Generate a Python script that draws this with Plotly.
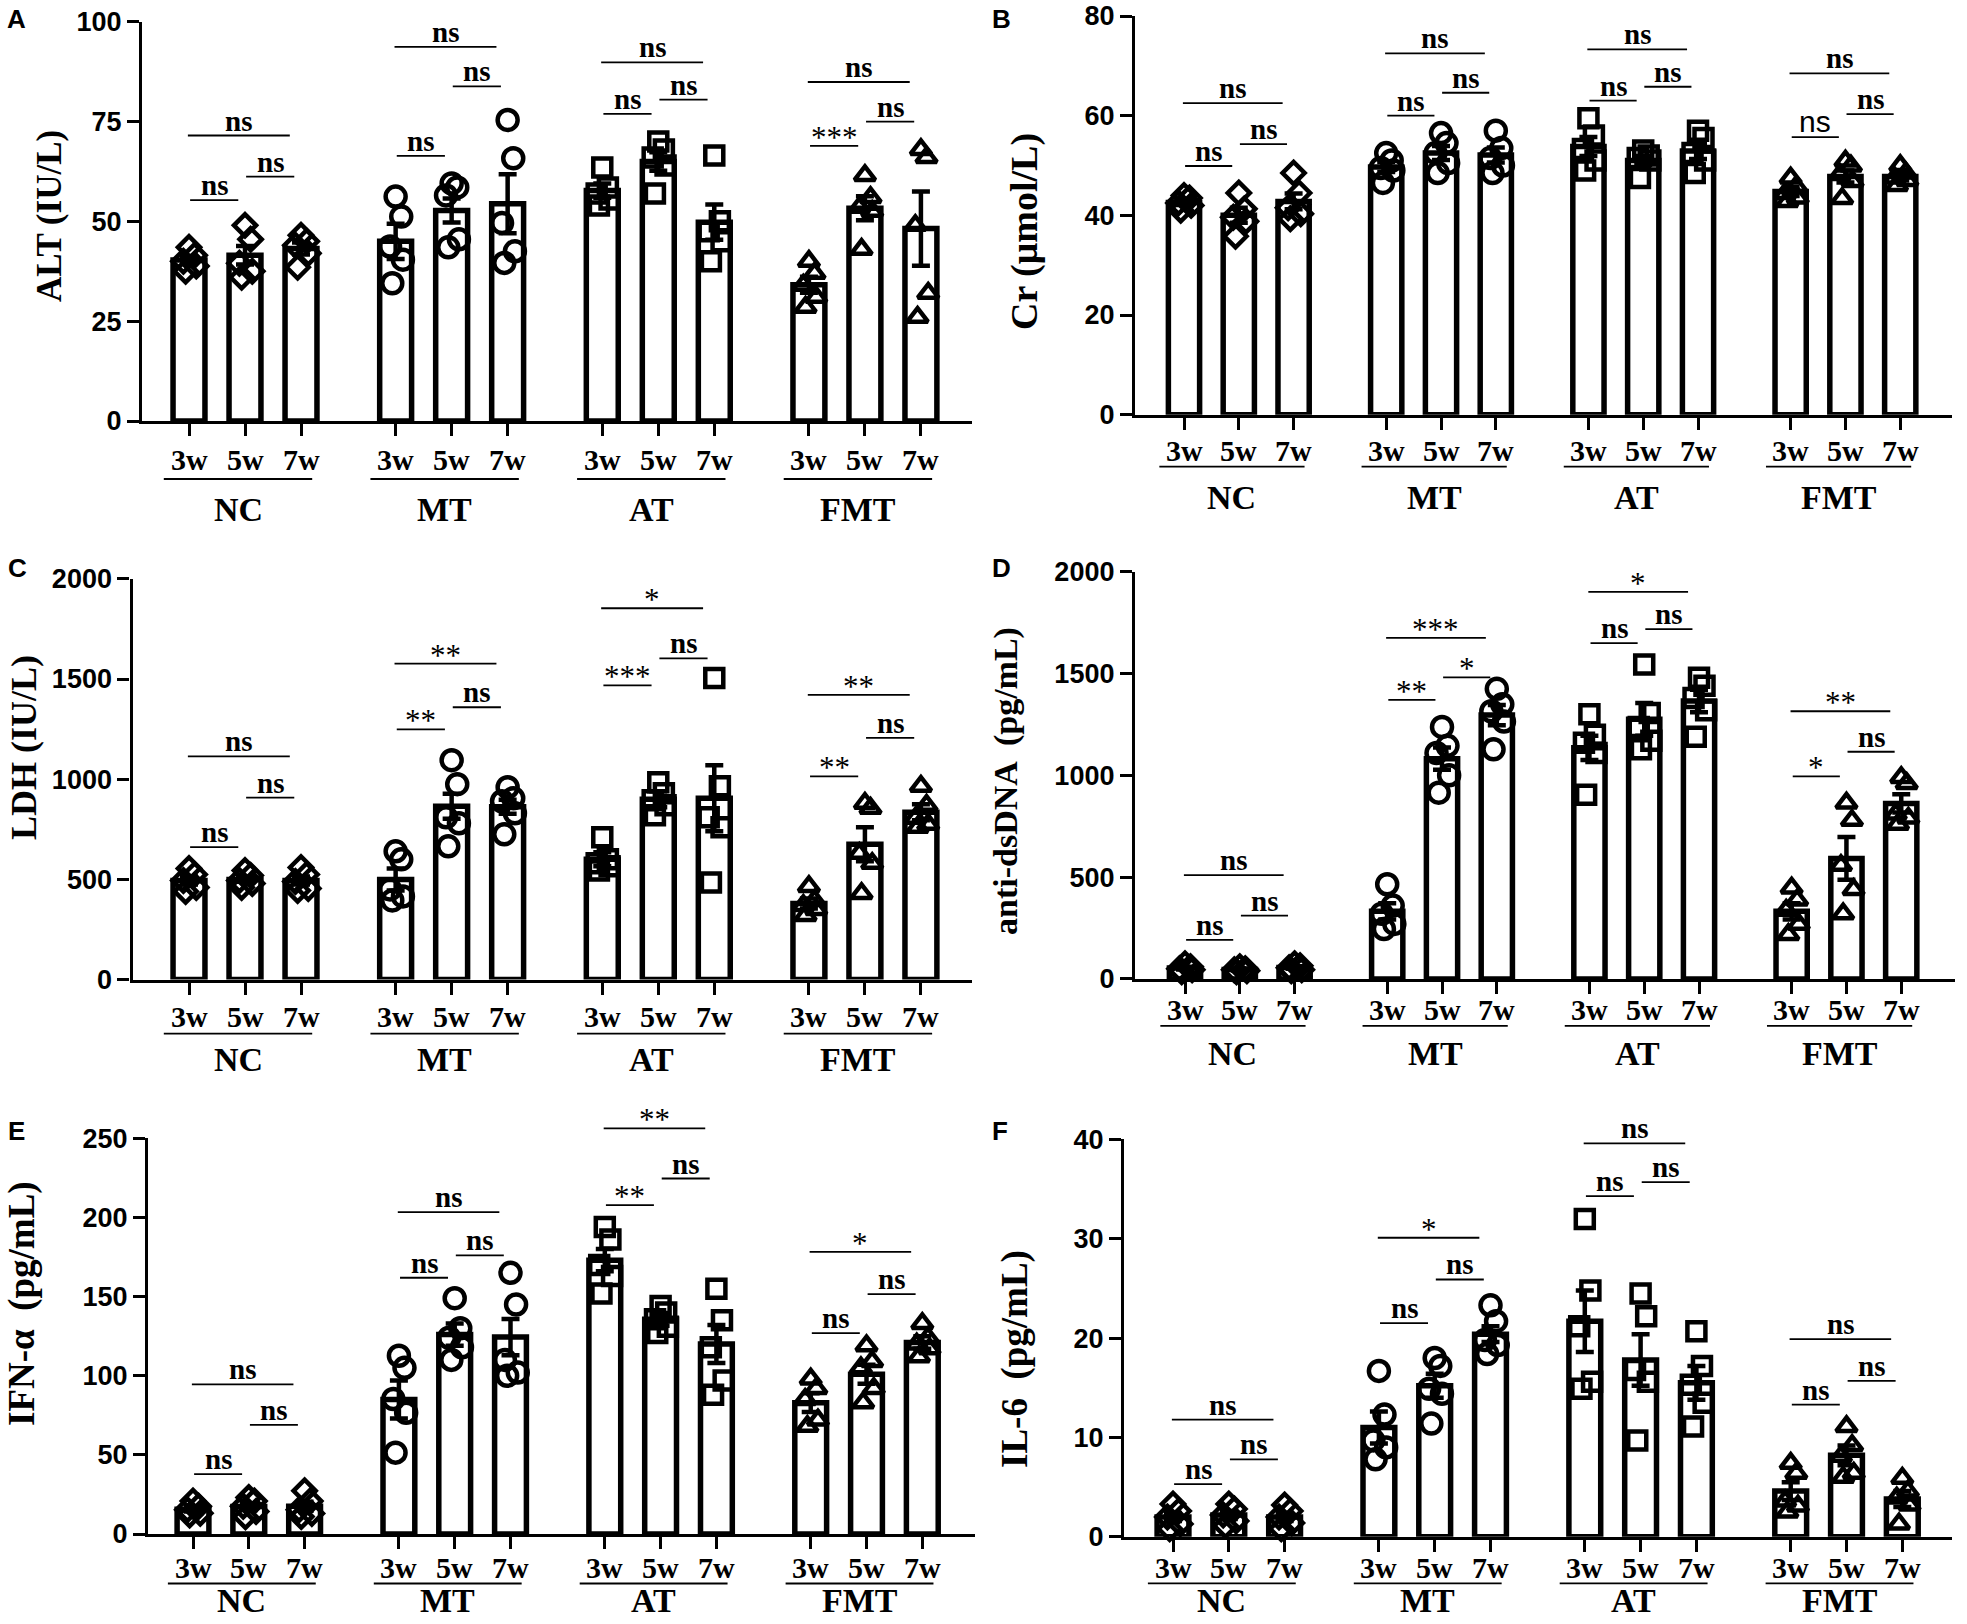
import plotly.graph_objects as go

W, H = 1967, 1624
GROUPS = ["NC", "MT", "AT", "FMT"]
WEEKS = ["3w", "5w", "7w"]
GROUP_STEP = 3.69
POS = [g * GROUP_STEP + i for g in range(4) for i in range(3)]
SYMBOLS = ["diamond", "circle", "square", "triangle-up"]
SYM_SIZE = {"diamond": 17, "circle": 20, "square": 18, "triangle-up": 18}
OFFSETS = [0.0, 0.1, -0.1, 0.13, -0.06]

# ---------------- A: ALT ----------------
alt_mean = [40.3, 41.5, 43.2, 45.0, 52.7, 54.4, 57.7, 65.0, 49.8, 34.1, 53.3, 48.2]
alt_sem = [1.0, 2.3, 1.5, 4.4, 3.0, 7.4, 1.8, 2.3, 4.4, 2.0, 3.0, 9.3]
alt_pts = [[43.5, 41.5, 40.0, 38.8, 37.5], [49.0, 45.5, 39.5, 37.5, 36.0], [46.5, 45.0, 44.0, 42.0, 38.5],
           [56.2, 51.2, 43.7, 40.4, 34.5], [59.5, 58.5, 56.5, 45.5, 43.5], [75.4, 65.8, 49.6, 42.5, 39.6],
           [63.5, 58.5, 57.0, 55.5, 54.0], [70.0, 68.0, 66.0, 64.0, 57.0], [66.5, 50.0, 47.5, 45.0, 40.0],
           [40.0, 37.0, 34.0, 31.0, 28.5], [61.5, 56.0, 53.5, 52.5, 43.0], [68.0, 66.0, 49.0, 32.0, 26.0]]
alt_sig = [(0, 0, 1, 55.3, "ns"), (0, 1, 2, 61.2, "ns"), (0, 0, 2, 71.5, "ns"),
           (1, 0, 1, 66.4, "ns"), (1, 1, 2, 83.8, "ns"), (1, 0, 2, 93.7, "ns"),
           (2, 0, 1, 76.9, "ns"), (2, 1, 2, 80.5, "ns"), (2, 0, 2, 89.8, "ns"),
           (3, 0, 1, 68.9, "***"), (3, 1, 2, 75.0, "ns"), (3, 0, 2, 84.9, "ns")]

# ---------------- B: Cr ----------------
cr_mean = [42.6, 40.0, 42.8, 49.7, 52.5, 52.1, 53.8, 51.0, 52.9, 44.8, 47.8, 47.8]
cr_sem = [0.5, 1.5, 1.6, 1.0, 1.4, 1.5, 1.9, 0.9, 1.6, 0.9, 1.2, 0.8]
cr_pts = [[44.0, 43.5, 42.5, 42.0, 41.0], [44.5, 41.3, 39.6, 38.8, 35.8], [48.5, 44.5, 41.5, 40.3, 39.3],
          [52.5, 51.0, 49.5, 49.0, 46.5], [56.5, 54.5, 52.5, 50.5, 48.5], [57.0, 53.5, 51.5, 50.0, 48.5],
          [59.5, 56.0, 53.3, 51.0, 49.0], [53.0, 52.0, 51.5, 51.0, 47.5], [57.0, 55.5, 52.5, 51.0, 48.5],
          [47.5, 45.8, 44.4, 43.5, 42.8], [50.9, 49.9, 48.2, 46.8, 43.4], [50.0, 48.5, 47.5, 47.0, 46.0]]
cr_sig = [(0, 0, 1, 49.9, "ns"), (0, 1, 2, 54.3, "ns"), (0, 0, 2, 62.5, "ns"),
          (1, 0, 1, 60.0, "ns"), (1, 1, 2, 64.6, "ns"), (1, 0, 2, 72.5, "ns"),
          (2, 0, 1, 63.0, "ns"), (2, 1, 2, 65.8, "ns"), (2, 0, 2, 73.3, "ns"),
          (3, 0, 1, 55.7, "ns*"), (3, 1, 2, 60.3, "ns"), (3, 0, 2, 68.5, "ns")]

# ---------------- C: LDH ----------------
ldh_mean = [495, 500, 495, 500, 865, 862, 600, 900, 905, 380, 675, 835]
ldh_sem = [20, 12, 20, 55, 62, 35, 35, 40, 165, 25, 85, 40]
ldh_pts = [[555, 525, 495, 460, 440], [545, 520, 495, 480, 460], [560, 525, 490, 455, 445],
           [640, 600, 450, 415, 395], [1095, 975, 810, 780, 665], [960, 905, 890, 830, 725],
           [710, 600, 580, 565, 545], [985, 930, 895, 870, 820], [1505, 965, 810, 760, 485],
           [465, 395, 370, 350, 320], [880, 855, 630, 580, 430], [965, 870, 805, 775, 760]]
ldh_sig = [(0, 0, 1, 661, "ns"), (0, 1, 2, 908, "ns"), (0, 0, 2, 1114, "ns"),
           (1, 0, 1, 1249, "**"), (1, 1, 2, 1359, "ns"), (1, 0, 2, 1577, "**"),
           (2, 0, 1, 1468, "***"), (2, 1, 2, 1603, "ns"), (2, 0, 2, 1853, "*"),
           (3, 0, 1, 1014, "**"), (3, 1, 2, 1206, "ns"), (3, 0, 2, 1421, "**")]

# ---------------- D: anti-dsDNA ----------------
dna_mean = [53, 46, 56, 332, 1082, 1296, 1135, 1275, 1365, 332, 592, 862]
dna_sem = [7, 5, 6, 40, 55, 50, 60, 80, 55, 40, 105, 45]
dna_pts = [[75, 60, 50, 45, 35], [60, 50, 45, 40, 35], [75, 65, 55, 45, 40],
           [465, 360, 320, 270, 245], [1238, 1145, 1110, 1000, 915], [1425, 1349, 1315, 1264, 1128],
           [1300, 1200, 1160, 1110, 905], [1544, 1306, 1238, 1170, 1128], [1480, 1440, 1380, 1320, 1190],
           [447, 388, 337, 269, 218], [864, 779, 558, 439, 320], [990, 960, 810, 790, 760]]
dna_sig = [(0, 0, 1, 192, "ns"), (0, 1, 2, 311, "ns"), (0, 0, 2, 510, "ns"),
           (1, 0, 1, 1371, "**"), (1, 1, 2, 1481, "*"), (1, 0, 2, 1675, "***"),
           (2, 0, 1, 1650, "ns"), (2, 1, 2, 1718, "ns"), (2, 0, 2, 1901, "*"),
           (3, 0, 1, 995, "*"), (3, 1, 2, 1116, "ns"), (3, 0, 2, 1315, "**")]

# ---------------- E: IFN-alpha ----------------
ifn_mean = [15.7, 17.3, 17.5, 85.0, 126.0, 124.4, 173.0, 135.6, 120.0, 83.0, 101.0, 121.0]
ifn_sem = [1.5, 2.2, 2.8, 12.0, 7.0, 11.5, 7.0, 4.0, 12.0, 6.0, 6.0, 4.0]
ifn_pts = [[20.8, 17.5, 15.3, 13.1, 12.0], [23.0, 20.8, 17.5, 14.2, 10.9], [27.3, 20.8, 15.3, 13.0, 11.0],
           [112.6, 105.0, 85.3, 76.6, 51.4], [149, 130, 124, 118, 110], [165, 145, 110, 102, 100],
           [194, 186, 170, 163, 152], [144, 140, 135.6, 131, 127], [155, 135, 118, 97, 88],
           [98, 92, 85, 72, 68], [119, 109, 105, 92, 83], [133, 124, 120, 117, 112]]
ifn_sig = [(0, 0, 1, 37.8, "ns"), (0, 1, 2, 68.9, "ns"), (0, 0, 2, 94.5, "ns"),
           (1, 0, 1, 161.9, "ns"), (1, 1, 2, 176.0, "ns"), (1, 0, 2, 203.4, "ns"),
           (2, 0, 1, 207.8, "**"), (2, 1, 2, 224.6, "ns"), (2, 0, 2, 256.3, "**"),
           (3, 0, 1, 126.9, "ns"), (3, 1, 2, 151.6, "ns"), (3, 0, 2, 178.3, "*")]

# ---------------- F: IL-6 ----------------
il6_mean = [2.0, 2.2, 2.0, 11.0, 15.2, 20.4, 21.7, 17.8, 15.5, 4.6, 8.2, 3.8]
il6_sem = [0.4, 0.4, 0.4, 1.6, 1.2, 0.8, 3.1, 2.6, 1.7, 0.9, 1.0, 0.8]
il6_pts = [[3.3, 2.6, 2.0, 1.3, 0.8], [3.3, 2.8, 2.2, 1.6, 1.1], [3.2, 2.6, 2.0, 1.4, 0.8],
           [16.7, 12.3, 9.7, 9.0, 7.8], [18.0, 17.2, 14.9, 14.4, 11.4], [23.3, 21.7, 19.8, 19.3, 18.4],
           [32.0, 24.8, 21.2, 15.6, 14.9], [24.5, 22.2, 16.8, 15.6, 9.7], [20.7, 17.2, 15.3, 13.5, 11.1],
           [7.4, 6.4, 3.6, 3.1, 2.5], [11.1, 9.2, 8.1, 6.4, 6.0], [5.9, 4.6, 3.9, 3.2, 1.3]]
il6_sig = [(0, 0, 1, 5.3, "ns"), (0, 1, 2, 7.8, "ns"), (0, 0, 2, 11.8, "ns"),
           (1, 0, 1, 21.5, "ns"), (1, 1, 2, 25.9, "ns"), (1, 0, 2, 30.1, "*"),
           (2, 0, 1, 34.3, "ns"), (2, 1, 2, 35.7, "ns"), (2, 0, 2, 39.6, "ns"),
           (3, 0, 1, 13.3, "ns"), (3, 1, 2, 15.7, "ns"), (3, 0, 2, 19.9, "ns")]

# layout geometry (pixels) per panel
PANELS = [
    dict(letter="A", title="ALT (IU/L)", ymax=100, dt=25, mean=alt_mean, sem=alt_sem, pts=alt_pts, sig=alt_sig,
         L=142, R=972, T=21.7, B=421, x0=189, u=56, tk=39, ul=58, gl=89, tx=50, ty=216, ts=35, ly=7, lx=5),
    dict(letter="B", title="Cr (μmol/L)", ymax=80, dt=20, mean=cr_mean, sem=cr_sem, pts=cr_pts, sig=cr_sig,
         L=1135, R=1952, T=16, B=414.7, x0=1184, u=54.8, tk=36, ul=52, gl=83, tx=1025, ty=232, ts=38, ly=7, lx=990),
    dict(letter="C", title="LDH (IU/L)", ymax=2000, dt=500, mean=ldh_mean, sem=ldh_sem, pts=ldh_pts, sig=ldh_sig,
         L=132.5, R=972, T=578.8, B=979.6, x0=189, u=56, tk=37, ul=54, gl=80, tx=24, ty=748, ts=36, ly=556, lx=6),
    dict(letter="D", title="anti-dsDNA  (pg/mL)", ymax=2000, dt=500, mean=dna_mean, sem=dna_sem, pts=dna_pts, sig=dna_sig,
         L=1135, R=1955, T=571.8, B=978.9, x0=1185, u=54.8, tk=31, ul=47, gl=75, tx=1006, ty=781, ts=34, ly=556, lx=990),
    dict(letter="E", title="IFN-α  (pg/mL)", ymax=250, dt=50, mean=ifn_mean, sem=ifn_sem, pts=ifn_pts, sig=ifn_sig,
         L=148, R=975, T=1138.3, B=1534, x0=193, u=55.8, tk=33.5, ul=49.5, gl=66, tx=22, ty=1304, ts=37, ly=1119, lx=6),
    dict(letter="F", title="IL-6  (pg/mL)", ymax=40, dt=10, mean=il6_mean, sem=il6_sem, pts=il6_pts, sig=il6_sig,
         L=1124, R=1952, T=1139.4, B=1536.8, x0=1173, u=55.8, tk=30.5, ul=46.5, gl=64, tx=1015, ty=1359, ts=37, ly=1119, lx=990),
]

SERIF = "Liberation Serif"
SANS = "Liberation Sans"
BAR_W = 0.57

fig = go.Figure()
layout = dict(template="none", width=W, height=H,
              margin=dict(l=0, r=0, t=0, b=0, pad=0, autoexpand=False), autosize=False,
              paper_bgcolor="white", plot_bgcolor="white", showlegend=False)
shapes, annotations = [], []

for k, p in enumerate(PANELS, start=1):
    xn = "x" if k == 1 else f"x{k}"
    yn = "y" if k == 1 else f"y{k}"
    xkey = "xaxis" if k == 1 else f"xaxis{k}"
    ykey = "yaxis" if k == 1 else f"yaxis{k}"
    ph = p["B"] - p["T"]
    layout[xkey] = dict(domain=[p["L"] / W, p["R"] / W], automargin=False,
                        range=[(p["L"] - p["x0"]) / p["u"], (p["R"] - p["x0"]) / p["u"]],
                        anchor=yn, showline=True, linecolor="black", linewidth=3.3,
                        ticks="outside", ticklen=12, tickwidth=3, tickcolor="black",
                        tickvals=POS, showticklabels=False,
                        showgrid=False, zeroline=False, fixedrange=True)
    layout[ykey] = dict(domain=[1 - p["B"] / H, 1 - p["T"] / H], range=[0, p["ymax"]], automargin=False,
                        anchor=xn, showline=True, linecolor="black", linewidth=3.3,
                        ticks="outside", ticklen=12, tickwidth=3, tickcolor="black",
                        tickmode="linear", tick0=0, dtick=p["dt"], ticklabeloverflow="allow",
                        tickfont=dict(family=SANS, size=27, color="black", weight="bold"),
                        showgrid=False, zeroline=False, fixedrange=True)

    fig.add_trace(go.Bar(x=POS, y=p["mean"], width=BAR_W, xaxis=xn, yaxis=yn,
                         marker=dict(color="white", line=dict(color="black", width=5.5)),
                         error_y=dict(type="data", array=p["sem"], visible=True, color="black",
                                      thickness=4.5, width=9)))
    for g in range(4):
        xs, ys = [], []
        for i in range(3):
            idx = g * 3 + i
            for j, v in enumerate(p["pts"][idx]):
                xs.append(POS[idx] + OFFSETS[j % len(OFFSETS)])
                ys.append(v)
        sym = SYMBOLS[g]
        fig.add_trace(go.Scatter(x=xs, y=ys, mode="markers", xaxis=xn, yaxis=yn, cliponaxis=False,
                                 marker=dict(symbol=sym, size=SYM_SIZE[sym], color="rgba(0,0,0,0)",
                                             line=dict(color="black", width=4.5))))

    # week tick labels
    for idx, xv in enumerate(POS):
        annotations.append(dict(text=WEEKS[idx % 3], xref=xn, yref=f"{yn} domain", x=xv, y=0,
                                yshift=-p["tk"], xanchor="center", yanchor="middle", showarrow=False,
                                font=dict(family=SERIF, size=30, color="black", weight="bold")))

    # group underline + labels
    for g, name in enumerate(GROUPS):
        gx = g * GROUP_STEP
        yfrac = -p["ul"] / ph
        shapes.append(dict(type="line", xref=xn, yref=f"{yn} domain", x0=gx - 0.45, x1=gx + 2.2,
                           y0=yfrac, y1=yfrac, line=dict(color="black", width=1.8)))
        annotations.append(dict(text=name, xref=xn, yref=f"{yn} domain", x=gx + 0.875, y=0,
                                yshift=-p["gl"], xanchor="center", yanchor="middle", showarrow=False,
                                font=dict(family=SERIF, size=34, color="black", weight="bold")))

    # significance brackets
    for (g, i, j, val, lab) in p["sig"]:
        xa = POS[g * 3 + i]
        xb = POS[g * 3 + j]
        if j - i == 1:
            x0, x1 = xa + 0.02, xb - 0.12
        else:
            x0, x1 = xa - 0.02, xb - 0.2
        yf = val / p["ymax"]
        shapes.append(dict(type="line", xref=xn, yref=f"{yn} domain", x0=x0, x1=x1, y0=yf, y1=yf,
                           line=dict(color="black", width=1.8)))
        if lab.startswith("*"):
            font = dict(family=SERIF, size=31, color="black")
            ysh = -11
        elif lab == "ns*":
            lab = "ns"
            font = dict(family=SANS, size=30, color="black")
            ysh = -3
        else:
            font = dict(family=SERIF, size=29, color="black", weight="bold")
            ysh = -3
        annotations.append(dict(text=lab, xref=xn, yref=f"{yn} domain", x=(x0 + x1) / 2, y=yf,
                                yshift=ysh, xanchor="center", yanchor="bottom", showarrow=False, font=font))

    # y-axis title
    annotations.append(dict(text=p["title"], xref="paper", yref="paper", x=p["tx"] / W, y=1 - p["ty"] / H,
                            xanchor="center", yanchor="middle", textangle=-90, showarrow=False,
                            font=dict(family=SERIF, size=p["ts"], color="black", weight="bold")))
    # panel letter
    annotations.append(dict(text=p["letter"], xref="paper", yref="paper", x=p["lx"] / W, y=1 - (p["ly"] - 5) / H,
                            xanchor="left", yanchor="top", showarrow=False,
                            font=dict(family=SANS, size=26, color="black", weight="bold")))

layout["shapes"] = shapes
layout["annotations"] = annotations
fig.update_layout(**layout)
fig.write_html("out.html", config={"displayModeBar": False},
               post_script="document.body.style.margin='0';document.body.style.overflow='hidden';")
